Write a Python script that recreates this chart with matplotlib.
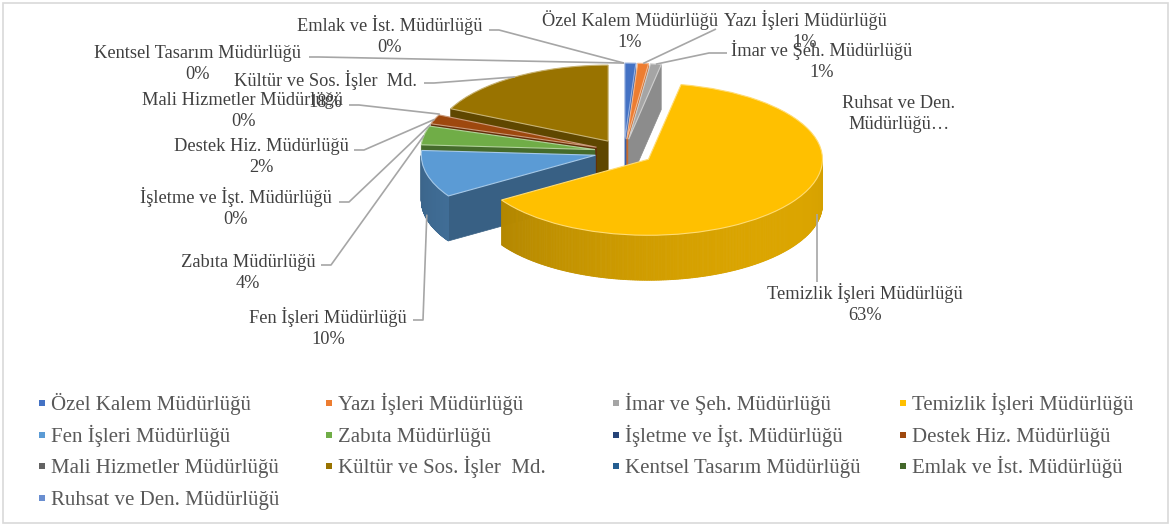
import numpy as np
import matplotlib
matplotlib.use("Agg")
import matplotlib.pyplot as plt
from matplotlib.patches import Wedge, Polygon, Rectangle
import matplotlib.colors as mcolors

# ---------------- data ----------------
categories = ["Özel Kalem Müdürlüğü", "Yazı İşleri Müdürlüğü", "İmar ve Şeh. Müdürlüğü",
              "Temizlik İşleri Müdürlüğü", "Fen İşleri Müdürlüğü", "Zabıta Müdürlüğü",
              "İşletme ve İşt. Müdürlüğü", "Destek Hiz. Müdürlüğü", "Mali Hizmetler Müdürlüğü",
              "Kültür ve Sos. İşler  Md.", "Kentsel Tasarım Müdürlüğü", "Emlak ve İst. Müdürlüğü",
              "Ruhsat ve Den. Müdürlüğü"]
values = [1, 1, 1, 63, 10, 4, 0, 2, 0, 18, 0, 0, 0]
pct_labels = ["1%", "1%", "1%", "63%", "10%", "4%", "0%", "2%", "0%", "18%", "0%", "0%", None]
name_labels = list(categories)
name_labels[12] = "Ruhsat ve Den.\nMüdürlüğü…"
colors = ["#4472C4", "#ED7D31", "#A5A5A5", "#FFC000", "#5B9BD5", "#70AD47", "#264478",
          "#9E480E", "#636363", "#997300", "#255E91", "#43682B", "#698ED0"]

# ---------------- layout ----------------
W, H = 1171, 526
fig = plt.figure(figsize=(W / 100, H / 100), dpi=100)
fig.patch.set_facecolor("white")
ax = fig.add_axes([0, 0, 1, 1])
CX, CY, RX, RY = 624, 152, 174.0, 76.0
DEPTH = 45 / RY
EXPLODE = 0.17
ax.set_xlim(-CX / RX, (W - CX) / RX)
ax.set_ylim(-(H - CY) / RY, CY / RY)
ax.set_aspect("auto")
ax.axis("off")

lax = fig.add_axes([0, 0, 1, 1])
lax.set_xlim(0, W)
lax.set_ylim(H, 0)
lax.axis("off")
lax.patch.set_visible(False)

FONT = "Liberation Serif"
LABEL_FS = 13.2
LEG_FS = 15


def shade(c, f):
    r, g, b = mcolors.to_rgb(c)
    return (min(r * f, 1), min(g * f, 1), min(b * f, 1))


def lighten(c, f):
    r, g, b = mcolors.to_rgb(c)
    return (r + (1 - r) * f, g + (1 - g) * f, b + (1 - b) * f)


total = float(sum(values))
cum = np.concatenate([[0], np.cumsum(values)])
theta2s = 90 - 360 * cum[:-1] / total
theta1s = 90 - 360 * cum[1:] / total
mids = (theta1s + theta2s) / 2

centres = {}
for i, v in enumerate(values):
    m = np.radians(mids[i])
    centres[i] = (EXPLODE * np.cos(m), EXPLODE * np.sin(m))

order = sorted([i for i in range(len(values)) if values[i] > 0],
               key=lambda i: -np.sin(np.radians(mids[i])))

z = 1
for i in order:
    cx, cy = centres[i]
    t1, t2 = theta1s[i], theta2s[i]
    col = colors[i]
    side_f = 0.62 if values[i] / total > 0.015 else 0.85
    # radial faces
    for t, vis in ((t1, np.cos(np.radians(t1)) > 1e-6), (t2, np.cos(np.radians(t2)) < -1e-6)):
        if vis:
            tr = np.radians(t)
            pts = [(cx, cy), (cx + np.cos(tr), cy + np.sin(tr)),
                   (cx + np.cos(tr), cy + np.sin(tr) - DEPTH), (cx, cy - DEPTH)]
            ax.add_patch(Polygon(pts, closed=True, facecolor=shade(col, side_f),
                                 edgecolor=shade(col, side_f), lw=0.5, zorder=z))
    z += 1
    # outer wall (front half only), drawn in shaded strips
    ts = np.linspace(t1, t2, 400)
    tr = np.radians(ts)
    front = np.sin(tr) <= 0
    for k in range(len(ts) - 1):
        if front[k] and front[k + 1]:
            a, b = tr[k], tr[k + 1]
            f = 0.74 + 0.12 * np.cos(0.5 * (a + b) - np.radians(-40))
            pts = [(cx + np.cos(a), cy + np.sin(a)), (cx + np.cos(b), cy + np.sin(b)),
                   (cx + np.cos(b), cy + np.sin(b) - DEPTH), (cx + np.cos(a), cy + np.sin(a) - DEPTH)]
            ax.add_patch(Polygon(pts, closed=True, facecolor=shade(col, f),
                                 edgecolor=shade(col, f), lw=0.6, zorder=z))
    z += 1
    # top face
    ax.add_patch(Wedge((cx, cy), 1.0, t1, t2, facecolor=col,
                       edgecolor=lighten(col, 0.45), lw=0.8, zorder=z))
    z += 1


def to_px(X, Y):
    d = ax.transData.transform((X, Y))
    return lax.transData.inverted().transform(d)


def anchor(i, vertical_x=None):
    cx, cy = centres[i]
    m = np.radians(mids[i])
    if vertical_x is not None:
        # point on the front wall straight above / below a given pixel x
        Xt = (vertical_x - to_px(0, 0)[0]) / (to_px(1, 0)[0] - to_px(0, 0)[0])
        t = -np.arccos(np.clip(Xt - cx, -1, 1))
        return to_px(Xt, cy + np.sin(t) - DEPTH * 0.8)
    X = cx + np.cos(m)
    Y = cy + np.sin(m)
    if np.sin(m) < 0:
        Y -= DEPTH * 0.9
    return to_px(X, Y)


# label layout: name centre (px), leader start (px) or None, horizontal stub length
label_pos = {
    0: ((630, 20), None, 0),
    1: ((805, 20), (716, 29), 0),
    2: ((822, 50), (727, 53), -18),
    3: ((865, 293), (817, 282), "v"),
    4: ((328, 317), (413, 320), 10),
    5: ((248, 261), (321, 265), 10),
    6: ((236, 197), (339, 202), 10),
    7: ((261, 145), (354, 150), 10),
    8: ((243, 99), (349, 105), 10),
    9: ((325, 80), (424, 83), 10),
    10: ((197, 52), (309, 57), 10),
    11: ((390, 25), (489, 30), 10),
    12: ((899, 102), None, 0),
}
EM = LABEL_FS * 100 / 72
LINE = 21
txt_kw = dict(fontsize=LABEL_FS, family=FONT, color="#404040", ha="center", va="baseline")
for i in range(len(categories)):
    (x, y), start, stub = label_pos[i]
    lines = name_labels[i].split("\n")
    if pct_labels[i] is not None:
        lines = lines + [pct_labels[i]]
    for k, s in enumerate(lines):
        lax.text(x, y + k * LINE + 0.33 * EM, s, zorder=20, **txt_kw)
    if start is not None:
        sx, sy = start
        if stub == "v":
            ax_, ay_ = anchor(i, vertical_x=sx)
            xs, ys = [sx, ax_], [sy, ay_]
        else:
            ax_, ay_ = anchor(i)
            xs = [sx, sx + stub, ax_] if stub else [sx, ax_]
            ys = [sy, sy, ay_] if stub else [sy, ay_]
        lax.plot(xs, ys, color="#A6A6A6", lw=1.2, zorder=15, solid_capstyle="butt")

# ---------------- legend (4 columns, row-major like Excel) ----------------
LEG_X0, LEG_DX, LEG_Y0, LEG_DY = 42, 287, 403, 31.7
LEM = LEG_FS * 100 / 72
for i, name in enumerate(categories):
    r, c = divmod(i, 4)
    mx = LEG_X0 + c * LEG_DX
    my = LEG_Y0 + r * LEG_DY
    lax.add_patch(Rectangle((mx - 3, my - 3), 6, 6, facecolor=colors[i], edgecolor="none", zorder=20))
    lax.text(mx + 9, my + 0.33 * LEM, name, fontsize=LEG_FS, family=FONT, color="#595959",
             ha="left", va="baseline", zorder=20)

# chart border
lax.add_patch(Rectangle((3, 3), W - 6, H - 6, facecolor="none", edgecolor="#D9D9D9", lw=1.2, zorder=30))

fig.savefig("out.png", dpi=100)
